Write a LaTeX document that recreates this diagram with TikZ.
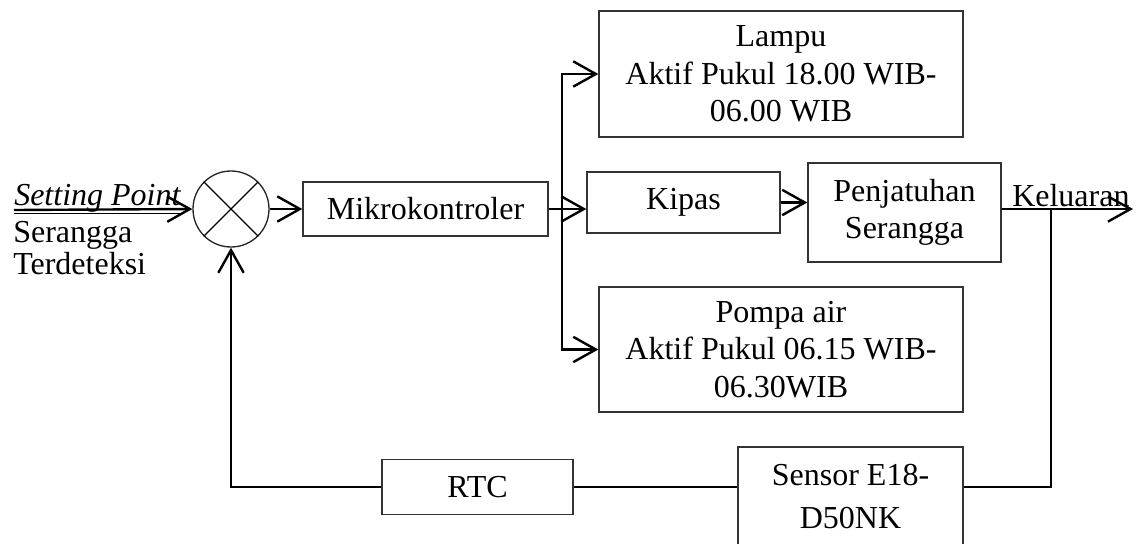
\documentclass[tikz,border=0pt]{standalone}
\usepackage{fontspec}
\setmainfont{Liberation Serif}
\usetikzlibrary{arrows.meta}
\begin{document}
\begin{tikzpicture}[x=0.75pt,y=-0.75pt,
  every node/.style={font=\fontsize{24}{28}\selectfont},
  blok/.style={draw=black!80, line width=1pt, rectangle, inner sep=0pt, align=center},
  conn/.style={line width=1.8pt, black},
  arr/.style={conn, -{Straight Barb[length=17pt,width=19pt,line width=1.8pt]}},
  lbl/.style={inner sep=0pt, anchor=base west}]
\useasboundingbox (0,0) rectangle (1137,543);

% summing junction
\node[draw=black!85, line width=1pt, circle, minimum size={76*0.75pt}, inner sep=0pt] (sum) at (231,209) {};
\draw[line width=1pt] (sum.north west) -- (sum.south east);
\draw[line width=1pt] (sum.north east) -- (sum.south west);

% blocks
\node[blok, minimum width={245*0.75pt}, minimum height={54*0.75pt}] (mk) at (425.5,209) {Mikrokontroler};
\node[blok, minimum width={364*0.75pt}, minimum height={126*0.75pt}] (lampu) at (781,74) {Lampu\\Aktif Pukul 18.00 WIB-\\06.00 WIB};
\node[blok, minimum width={193*0.75pt}, minimum height={61*0.75pt}] (kipas) at (683.5,202.5) {Kipas};
\node[blok, minimum width={193*0.75pt}, minimum height={99*0.75pt}] (penj) at (904.5,212.5) {Penjatuhan\\Serangga};
\node[blok, minimum width={364*0.75pt}, minimum height={125*0.75pt}] (pompa) at (781,349.5) {Pompa air\\Aktif Pukul 06.15 WIB-\\06.30WIB};
\node[blok, minimum width={191*0.75pt}, minimum height={55*0.75pt}] (rtc) at (477.5,487) {RTC};
\node[blok, minimum width={225*0.75pt}, minimum height={100*0.75pt}] (sensor) at (850.5,497) {};
\node[lbl, anchor=base] (sensortxt1) at (850.5,485) {Sensor E18-};
\node[lbl, anchor=base] (sensortxt2) at (850.5,528) {D50NK};

% input
\coordinate (in) at (14,210);
\draw[arr] (in) -- (sum.west);
\node[lbl] (sp) at (14,205) {\underline{\textit{Setting Point}}};
\node[lbl] (ser) at (13,242) {Serangga};
\node[lbl] (ter) at (13,274) {Terdeteksi};

% forward path
\draw[arr] (sum.east) -- (mk.west);
\coordinate (br) at (562,209);
\draw[conn] (mk.east) -- (br);
\draw[arr] (br) |- (lampu.west);
\draw[arr] (br) |- (pompa.west);
\draw[arr] (br) -- (br -| kipas.west);
\draw[arr] (kipas.east) -- (kipas.east -| penj.west);

% output
\coordinate (out) at (1133,209);
\coordinate (j) at (1051,209);
\draw[arr] (penj.east |- out) -- (out);
\node[lbl] (kel) at (1012,206) {Keluaran};

% feedback
\coordinate (fb) at (1051,487);
\draw[conn] (j) -- (fb) -- (sensor.east |- fb);
\draw[conn] (sensor.west |- rtc.east) -- (rtc.east);
\draw[arr] (rtc.west) -| (sum.south);
\end{tikzpicture}
\end{document}
